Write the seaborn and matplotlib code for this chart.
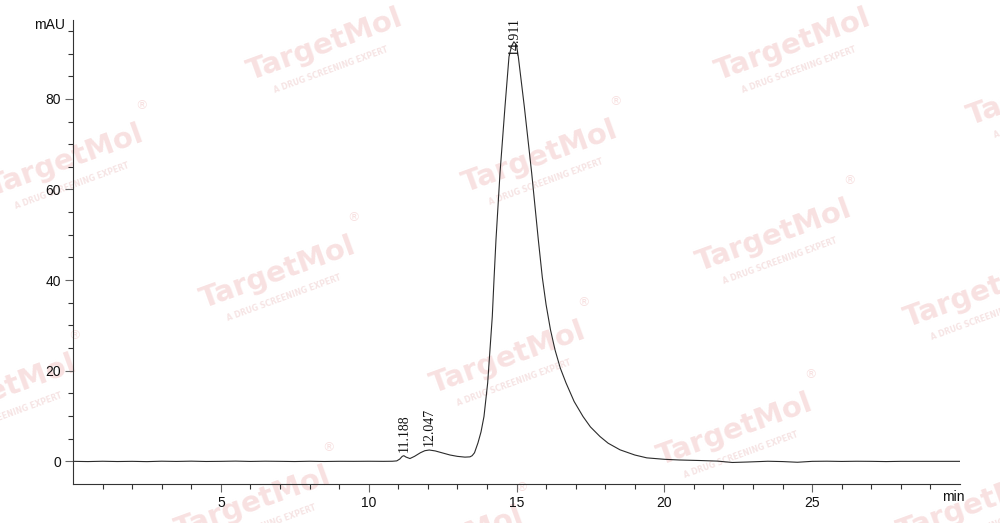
import matplotlib
matplotlib.use("Agg")
import matplotlib.pyplot as plt
import matplotlib.transforms as mtransforms
from matplotlib.ticker import FixedLocator
import seaborn as sns
import pandas as pd
import math

# ---- data ----
time_min = [0.0, 0.5, 1.0, 1.5, 2.0, 2.5, 3.0, 3.5, 4.0, 4.5, 5.0, 5.5, 6.0, 6.5,
            7.0, 7.5, 8.0, 8.5, 9.0, 9.5, 10.0, 10.5, 10.8, 10.95, 11.05, 11.135,
            11.19, 11.26, 11.396, 11.55, 11.75, 11.9, 12.05, 12.25, 12.5, 12.75,
            13.0, 13.257, 13.426, 13.5, 13.58, 13.697, 13.80, 13.90, 14.025,
            14.181, 14.239, 14.306, 14.442, 14.611, 14.746, 14.83, 14.911, 15.0,
            15.061, 15.264, 15.514, 15.738, 15.873, 16.0, 16.15, 16.303, 16.48,
            16.675, 16.95, 17.25, 17.5, 17.825, 18.1, 18.502, 19.0, 19.406, 20.0,
            20.5, 21.21, 21.8, 22.3, 22.8, 23.5, 24.0, 24.5, 25.0, 25.5, 26.0,
            26.5, 27.0, 27.5, 28.0, 29.0, 30.0]
signal_mau = [0.0, -0.05, 0.02, -0.04, 0.0, -0.06, 0.03, -0.02, 0.04, -0.03, 0.0,
              0.05, -0.02, 0.03, 0.0, -0.04, 0.02, -0.03, 0.01, 0.0, 0.02, 0.0,
              0.02, 0.1, 0.5, 1.1, 1.25, 0.95, 0.62, 1.1, 1.9, 2.35, 2.5, 2.3,
              1.85, 1.4, 1.1, 0.93, 0.99, 1.25, 1.9, 4.08, 6.5, 9.89, 17.3, 31.96,
              40.1, 48.9, 63.6, 78.3, 89.3, 91.6, 92.6, 91.9, 89.3, 78.3, 63.6,
              48.9, 40.6, 34.6, 29.0, 24.6, 20.6, 17.3, 13.2, 9.89, 7.6, 5.47,
              4.0, 2.54, 1.4, 0.77, 0.45, 0.3, 0.18, 0.05, -0.25, -0.15, 0.02,
              -0.05, -0.2, 0.0, 0.03, -0.02, 0.02, 0.0, -0.05, 0.0, 0.0, 0.0]

peak_rt = [11.188, 12.047, 14.911]
peak_height = [1.25, 2.5, 92.6]
peak_labels = ["11.188", "12.047", "14.911"]

x_major = [5, 10, 15, 20, 25]
x_minor = [v for v in range(1, 30) if v % 5 != 0]
y_major = [0, 20, 40, 60, 80]
y_minor = [v for v in range(5, 100, 5) if v % 20 != 0]

# watermark centres (image pixel coordinates)
wm_x = [325, 793, 1045, 66, 540, 774, 278, 982, -1, 508, 735, 253, 975, 446]
wm_y = [45, 45, 90, 161, 157, 236, 273, 292, 391, 358, 430, 503, 505, 543]

df = pd.DataFrame({"time": time_min, "mAU": signal_mau})

sns.set_theme(style="white")
plt.rcParams["font.family"] = ["Liberation Sans", "DejaVu Sans"]

W, H = 1000, 523
fig = plt.figure(figsize=(W / 100, H / 100), dpi=100)
fig.patch.set_facecolor("white")
ax = fig.add_axes([73 / W, 1 - 484 / H, (960 - 73) / W, (484 - 20) / H])
ax.set_facecolor("none")

# watermarks
ang = 20.0
ca, sa = math.cos(math.radians(ang)), math.sin(math.radians(ang))
for cx, cy in zip(wm_x, wm_y):
    fx, fy = cx / W, 1 - cy / H
    fig.text(fx, fy, "TargetMol", rotation=ang, rotation_mode="anchor",
             ha="center", va="center", fontsize=21, fontweight="bold",
             color="#f8e1e1", family="DejaVu Sans", zorder=-5)
    d_along, d_perp = -3, -25
    ox = d_along * ca - d_perp * sa
    oy = d_along * sa + d_perp * ca
    tr = mtransforms.offset_copy(fig.transFigure, fig, x=ox, y=oy, units="dots")
    fig.text(fx, fy, "A DRUG SCREENING EXPERT", transform=tr, rotation=ang,
             rotation_mode="anchor", ha="center", va="center", fontsize=5.5,
             fontweight="bold", color="#f6e4e4", family="DejaVu Sans", zorder=-5)
    d_along, d_perp = 90, 26
    ox = d_along * ca - d_perp * sa
    oy = d_along * sa + d_perp * ca
    tr = mtransforms.offset_copy(fig.transFigure, fig, x=ox, y=oy, units="dots")
    fig.text(fx, fy, "®", transform=tr, ha="center", va="center", fontsize=9,
             color="#f8e1e1", family="DejaVu Sans", zorder=-5)

sns.lineplot(data=df, x="time", y="mAU", ax=ax, color="#2b2b2b", linewidth=0.8,
             estimator=None, sort=False)

ax.set_xlim(0, 30)
ax.set_ylim(-5, 97.4)
ax.set_xlabel("")
ax.set_ylabel("")

for s in ["top", "right"]:
    ax.spines[s].set_visible(False)
for s in ["left", "bottom"]:
    ax.spines[s].set_color("#333333")
    ax.spines[s].set_linewidth(0.8)

ax.xaxis.set_major_locator(FixedLocator(x_major))
ax.xaxis.set_minor_locator(FixedLocator(x_minor))
ax.yaxis.set_major_locator(FixedLocator(y_major))
ax.yaxis.set_minor_locator(FixedLocator(y_minor))
ax.tick_params(which="major", direction="out", length=6, width=0.8,
               color="#666666", labelsize=10, labelcolor="#111111", pad=2.5)
ax.tick_params(which="minor", direction="out", length=3.5, width=0.8,
               color="#333333")
ax.tick_params(axis="x", which="both", bottom=True)
ax.tick_params(axis="y", which="both", left=True)

# peak labels
for rt, h, lab in zip(peak_rt, peak_height, peak_labels):
    off = -9.5 if h > 50 else 3.0
    ax.annotate(lab, xy=(rt, h), xytext=(0, off), textcoords="offset points",
                rotation=90, ha="center", va="bottom", fontsize=10,
                family="Liberation Serif", color="#111111")

fig.text(65 / W, 1 - 25 / H, "mAU", ha="right", va="center", fontsize=10,
         color="#111111")
fig.text(953 / W, 1 - 497 / H, "min", ha="center", va="center", fontsize=10,
         color="#111111")

fig.savefig("out.png", dpi=100, facecolor="white")
